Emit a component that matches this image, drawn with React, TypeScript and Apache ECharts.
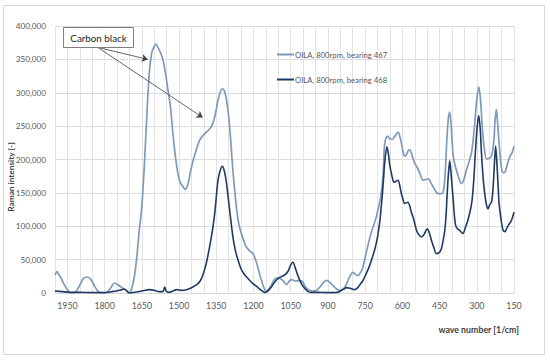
import React, { useEffect, useRef } from "react";
import * as echarts from "echarts";

const seriesNames = ["OILA, 800rpm, bearing 467", "OILA, 800rpm, bearing 468"];

// [wave number (1/cm), Raman intensity]
const bearing467: [number, number][] = [
  [2000, 27000], [1992, 32000], [1985, 28000], [1975, 22000], [1965, 14000], [1950, 5000],
  [1935, 0], [1915, 2000], [1900, 12000], [1885, 22000], [1870, 24000], [1855, 20000],
  [1840, 10000], [1825, 2000], [1810, 0], [1790, 1000], [1775, 8000], [1760, 15000],
  [1745, 12000], [1730, 8000], [1715, 4000], [1700, 0], [1690, 8000], [1680, 25000],
  [1670, 55000], [1660, 95000], [1650, 130000], [1640, 190000], [1630, 265000], [1620, 330000],
  [1610, 360000], [1600, 370000], [1594, 373000], [1585, 368000], [1575, 360000], [1565, 350000],
  [1555, 330000], [1545, 305000], [1535, 280000], [1525, 240000], [1515, 205000], [1505, 180000],
  [1495, 165000], [1485, 160000], [1475, 155000], [1465, 162000], [1455, 180000], [1443, 199000],
  [1430, 215000], [1417, 229000], [1403, 236000], [1390, 241000], [1370, 249000], [1356, 264000],
  [1345, 285000], [1335, 300000], [1325, 306000], [1315, 300000], [1305, 280000], [1296, 249000],
  [1283, 184000], [1269, 129000], [1260, 105000], [1249, 89000], [1238, 77000], [1229, 69000],
  [1215, 63000], [1202, 59000], [1188, 46000], [1178, 32000], [1168, 19000], [1158, 8000],
  [1150, 3000], [1140, 5000], [1128, 12000], [1110, 22000], [1094, 22000], [1080, 18000],
  [1067, 13000], [1055, 18000], [1047, 20000], [1030, 18000], [1015, 19000], [1002, 17000],
  [990, 9000], [975, 4000], [960, 3000], [945, 4000], [930, 10000], [915, 17000],
  [905, 19000], [890, 15000], [879, 11000], [865, 6000], [852, 4000], [840, 6000],
  [830, 10000], [820, 18000], [810, 26000], [799, 31000], [790, 28000], [779, 26000],
  [770, 30000], [763, 34000], [755, 45000], [745, 61000], [735, 77000], [725, 91000],
  [715, 102000], [705, 114000], [695, 130000], [687, 144000], [678, 175000], [671, 224000],
  [660, 235000], [650, 231000], [640, 230000], [630, 235000], [617, 241000], [610, 234000],
  [604, 225000], [595, 208000], [588, 205000], [578, 212000], [570, 215000], [560, 205000],
  [550, 194000], [540, 188000], [530, 180000], [517, 169000], [505, 170000], [495, 171000],
  [485, 165000], [476, 159000], [465, 152000], [456, 149000], [445, 149000], [436, 150000],
  [428, 175000], [422, 220000], [415, 260000], [409, 271000], [403, 250000], [396, 209000],
  [388, 192000], [382, 184000], [372, 172000], [362, 164000], [352, 170000], [342, 184000],
  [332, 196000], [322, 209000], [315, 228000], [308, 255000], [300, 290000], [292, 309000],
  [285, 290000], [277, 244000], [270, 218000], [261, 201000], [250, 202000], [241, 205000],
  [232, 225000], [226, 260000], [221, 275000], [216, 255000], [210, 224000], [201, 189000],
  [192, 180000], [185, 182000], [175, 195000], [167, 204000], [158, 210000], [150, 220000],
];

const bearing468: [number, number][] = [
  [2000, 3000], [1970, 2000], [1940, 1000], [1900, 1000], [1850, 500], [1800, 500],
  [1770, 2000], [1740, 4000], [1720, 6000], [1710, 3000], [1700, 0], [1680, 1000],
  [1650, 3000], [1620, 5000], [1600, 4000], [1580, 2000], [1565, 2000], [1558, 9000],
  [1552, 3000], [1540, 1000], [1525, 3000], [1510, 5000], [1490, 4000], [1470, 5000],
  [1450, 8000], [1430, 12000], [1415, 18000], [1404, 27000], [1390, 45000], [1377, 69000],
  [1365, 95000], [1356, 120000], [1343, 169000], [1333, 185000], [1325, 190000], [1317, 182000],
  [1309, 165000], [1296, 124000], [1283, 84000], [1272, 62000], [1262, 49000], [1250, 36000],
  [1235, 27000], [1218, 20000], [1202, 14000], [1185, 9000], [1168, 4000], [1155, 1000],
  [1145, 2000], [1128, 9000], [1115, 16000], [1101, 22000], [1085, 25000], [1074, 27000],
  [1060, 33000], [1050, 42000], [1041, 46000], [1032, 38000], [1021, 26000], [1007, 14000],
  [994, 7000], [980, 2000], [967, 1000], [940, 1000], [900, 500], [862, 1000],
  [850, 3000], [839, 5000], [825, 8000], [810, 7000], [792, 5000], [780, 8000],
  [772, 12000], [760, 18000], [752, 24000], [742, 32000], [732, 41000], [722, 52000],
  [712, 64000], [703, 78000], [696, 94000], [690, 110000], [685, 130000], [680, 150000],
  [676, 170000], [670, 200000], [662, 219000], [655, 205000], [650, 190000], [644, 179000],
  [637, 168000], [631, 166000], [624, 168000], [617, 169000], [610, 160000], [604, 149000],
  [597, 140000], [591, 134000], [584, 135000], [577, 136000], [570, 130000], [563, 120000],
  [557, 114000], [550, 104000], [543, 94000], [535, 88000], [523, 84000], [512, 88000],
  [500, 96000], [491, 90000], [483, 79000], [473, 68000], [463, 59000], [453, 60000],
  [443, 66000], [436, 78000], [429, 94000], [424, 115000], [420, 144000], [414, 180000],
  [409, 198000], [404, 180000], [396, 144000], [390, 115000], [385, 101000], [377, 96000],
  [369, 94000], [362, 91000], [356, 89000], [346, 98000], [336, 109000], [326, 124000],
  [319, 139000], [312, 170000], [306, 209000], [298, 250000], [292, 266000], [286, 245000],
  [281, 209000], [274, 170000], [268, 149000], [261, 132000], [255, 126000], [248, 132000],
  [240, 137000], [234, 160000], [228, 200000], [224, 220000], [219, 195000], [214, 160000],
  [210, 134000], [202, 110000], [194, 94000], [186, 92000], [178, 98000], [170, 103000],
  [160, 109000], [150, 121000],
];

// annotation: label origin and arrow tips, in data coordinates
const annotationText = "Carbon black";
const arrowFrom: [number, number] = [1828, 368000];
const arrowTips: [number, number][] = [[1626, 350000], [1405, 263000]];

const FONT = "Lato, 'Noto Sans', sans-serif";

export default function App() {
  const ref = useRef<HTMLDivElement>(null);
  useEffect(() => {
    if (!ref.current) return;
    const chart = echarts.init(ref.current, undefined, { renderer: "svg" });
    chart.setOption({
      animation: false,
      backgroundColor: "#ffffff",
      textStyle: { fontFamily: FONT },
      grid: { left: 55, right: 36, top: 26, bottom: 68 },
      legend: {
        orient: "vertical",
        left: 272,
        top: 44,
        itemGap: 14,
        itemWidth: 17,
        itemHeight: 2,
        icon: "rect",
        textStyle: { fontSize: 7.7, color: "#595959", fontFamily: FONT, lineHeight: 11, padding: [0, 0, 0, -4] },
        data: seriesNames,
      },
      xAxis: {
        type: "value",
        inverse: true,
        min: 150,
        max: 2000,
        interval: 50,
        axisLine: { show: true, lineStyle: { color: "#d9d9d9" } },
        axisTick: { show: false },
        axisLabel: {
          color: "#595959",
          fontSize: 8.8,
          margin: 8,
          showMinLabel: true,
          showMaxLabel: true,
          formatter: (v: number) => ((v - 150) % 150 === 0 ? String(v) : ""),
        },
        splitLine: { show: true, lineStyle: { color: "#e3e3e3", width: 1 } },
      },
      yAxis: {
        type: "value",
        min: 0,
        max: 400000,
        interval: 50000,
        axisLine: { show: false },
        axisTick: { show: false },
        axisLabel: {
          color: "#595959",
          fontSize: 8.2,
          margin: 9,
          formatter: (v: number) => v.toLocaleString("en-US"),
        },
        splitLine: { lineStyle: { color: "#dcdcdc", width: 1 } },
      },
      series: [
        {
          name: seriesNames[0],
          type: "line",
          data: bearing467,
          showSymbol: false,
          smooth: 0.3,
          lineStyle: { color: "#7f9ab8", width: 1.7 },
          itemStyle: { color: "#7f9ab8" },
          z: 2,
          markLine: {
            silent: true,
            symbol: ["none", "arrow"],
            symbolSize: 6,
            label: { show: false },
            lineStyle: { color: "#404040", width: 0.8, type: "solid" },
            data: arrowTips.map((t) => [
              { coord: arrowFrom, symbol: "none" },
              { coord: t, symbol: "arrow" },
            ]),
          },
        },
        {
          name: seriesNames[1],
          type: "line",
          data: bearing468,
          showSymbol: false,
          smooth: 0.3,
          lineStyle: { color: "#1f3a63", width: 1.6 },
          itemStyle: { color: "#1f3a63" },
          z: 3,
        },
      ],
      graphic: [
        {
          type: "rect",
          shape: { x: 3.5, y: 5.5, width: 541, height: 349 },
          style: { fill: "none", stroke: "#d9d9d9", lineWidth: 1 },
          silent: true,
        },
        {
          type: "rect",
          shape: { x: 63.5, y: 27.5, width: 70, height: 20 },
          style: { fill: "#ffffff", stroke: "#7f7f7f", lineWidth: 1 },
          z: 10,
        },
        {
          type: "text",
          x: 98.5,
          y: 37.5,
          z: 11,
          style: {
            text: annotationText,
            fill: "#262626",
            fontSize: 9.8,
            fontFamily: FONT,
            align: "center",
            verticalAlign: "middle",
          },
        },
        {
          type: "text",
          x: 11,
          y: 177,
          rotation: Math.PI / 2,
          style: {
            text: "Raman intensity [-]",
            fill: "#404040",
            fontSize: 8.3,
            fontWeight: "bold",
            fontFamily: FONT,
            align: "center",
            verticalAlign: "middle",
          },
        },
        {
          type: "text",
          x: 519,
          y: 329,
          style: {
            text: "wave number [1/cm]",
            fill: "#404040",
            fontSize: 8.8,
            fontWeight: "bold",
            fontFamily: FONT,
            align: "right",
            verticalAlign: "middle",
          },
        },
      ],
    });
    return () => chart.dispose();
  }, []);
  return (
    <div
      ref={ref}
      style={{ position: "fixed", left: 0, top: 0, width: 550, height: 361, background: "#fff" }}
    />
  );
}
